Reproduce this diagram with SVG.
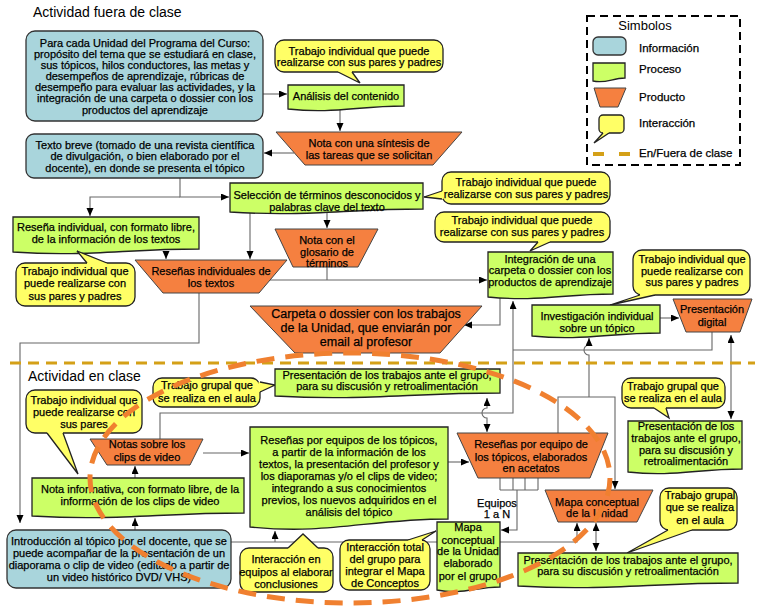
<svg xmlns="http://www.w3.org/2000/svg" width="760" height="607" viewBox="0 0 760 607">
<defs>
<marker id="ar" markerUnits="userSpaceOnUse" markerWidth="9" markerHeight="8" refX="8" refY="3.5" orient="auto-start-reverse"><path d="M0,0 L8,3.5 L0,7 Z" fill="#000"/></marker>
<style>
text{font-family:"Liberation Sans",Arial,sans-serif;font-size:11px;fill:#000;stroke:#000;stroke-width:0.25}
.c{text-anchor:middle}
.info{fill:#A9D5DC;stroke:#333;stroke-width:1.3}
.proc{fill:#CCFF66;stroke:#222;stroke-width:1.3}
.prod{fill:#F58040;stroke:#444;stroke-width:1}
.ci{fill:#FFFF66;stroke:#222;stroke-width:1.3}
.tf{fill:#FFFF66}
.ts{fill:none;stroke:#222;stroke-width:1.3}
.ln{fill:none;stroke:#666;stroke-width:1.1}
.ae{marker-end:url(#ar)}
.ab{marker-start:url(#ar);marker-end:url(#ar)}
.ttl{font-size:14px;stroke:none}
.lg{font-size:11.5px}
</style>
</defs>
<rect width="760" height="607" fill="#fff"/>
<text x="33" y="17" class="ttl">Actividad fuera de clase</text>
<text x="28" y="381" class="ttl">Actividad en clase</text>

<g id="connectors">
<path class="ln ae" d="M263 94 H287"/>
<path class="ln ae" d="M340 110 V131"/>
<path class="ln ae" d="M294 153 H264"/>
<path class="ln ae" d="M180 178 V197 H229"/>
<path class="ln ae" d="M180 197 H90 V216"/>
<path class="ln ae" d="M250 212 V259"/>
<path class="ln ae" d="M166 252 V259"/>
<path class="ln ae" d="M327 211 V228"/>
<path class="ln" d="M327 267 V280"/>
<path class="ln ae" d="M268 280 H487"/>
<path class="ln ae" d="M199 293 V343 H20 V523"/>
<path class="ln ae" d="M500 297 V325 H464"/>
<path class="ln ae" d="M160 439 V413 H513 V301"/>
<path class="ln" d="M712 332 V350 H513"/>
<path class="ln ae" d="M589 397 V355 A5 5 0 0 1 589 345 V338"/>
<path class="ln ae" d="M558 433 V397 H615 V489"/>
<path class="ln ab" d="M731 335 V419"/>
<path class="ln ab" d="M487 398 V408 A5 5 0 0 0 487 418 V432"/>
<path class="ln ae" d="M203 453 H249"/>
<path class="ln ae" d="M448 462 H469"/>
<path class="ln ae" d="M135 478 V466"/>
<path class="ln ae" d="M135 530 V518"/>
<path class="ln ae" d="M231 542 H577 V523"/>
<path class="ln ae" d="M275 542 V531"/>
<path class="ln" d="M500 478 V490 M513 478 V490 M525 478 V490 M538 478 V490 M500 490 H538"/>
<path class="ln ae" d="M517 490 V530 H501"/>
<path class="ln ab" d="M596 523 V551"/>
<path class="ln ae" d="M660 318 H679"/>
</g>

<path d="M10 363 H755" stroke="#D4A017" stroke-width="3" stroke-dasharray="11 7" fill="none"/>

<g id="legend">
<rect x="587" y="16" width="153" height="149" fill="#fff" stroke="#000" stroke-width="2" stroke-dasharray="8 5"/>
<text x="645" y="30" class="c" style="font-size:13px;stroke:none">Simbolos</text>
<rect class="info" x="593" y="37" width="33" height="18" rx="5"/>
<text x="639" y="52" class="lg">Información</text>
<path class="proc" d="M593 63 H625 V78 C612.2 78 605.8 84 593 81 Z"/>
<text x="639" y="73" class="lg">Proceso</text>
<path class="prod" d="M594 88 H626 L618 107 H600 Z"/>
<text x="639" y="101" class="lg">Producto</text>
<rect class="ci" x="599" y="115" width="25" height="18" rx="4"/>
<path class="tf" d="M603 131.5 L603 133 L594 143 L609 133 L609 131.5 Z"/>
<path class="ts" d="M603 133 L594 143 L609 133"/>
<text x="639" y="127" class="lg">Interacción</text>
<path d="M593 154 H630" stroke="#D4A017" stroke-width="4" stroke-dasharray="11 15" fill="none"/>
<text x="639" y="157" class="lg">En/Fuera de clase</text>
</g>

<g id="info1">
<rect class="info" x="26" y="31" width="237" height="90" rx="9"/>
<text class="c" x="145"><tspan x="145" y="47">Para cada Unidad del Programa del Curso:</tspan><tspan x="145" y="58">propósito del tema que se estudiará en clase,</tspan><tspan x="145" y="69">sus tópicos, hilos conductores, las metas y</tspan><tspan x="145" y="80">desempeños de aprendizaje, rúbricas de</tspan><tspan x="145" y="91">desempeño para evaluar las actividades, y la</tspan><tspan x="145" y="102">integración de una carpeta o dossier con los</tspan><tspan x="145" y="114">productos del aprendizaje</tspan></text>
</g>

<g id="info2">
<rect class="info" x="26" y="134" width="237" height="44" rx="8"/>
<text class="c"><tspan x="145" y="149">Texto breve (tomado de una revista científica</tspan><tspan x="145" y="160">de divulgación, o bien elaborado por el</tspan><tspan x="145" y="172">docente), en donde se presenta el tópico</tspan></text>
</g>

<g id="callout1">
<rect class="ci" x="275" y="40" width="168" height="32" rx="9"/>
<path class="tf" d="M338 70.5 L338 72 L360 83 L352 72 L352 70.5 Z"/>
<path class="ts" d="M338 72 L360 83 L352 72"/>
<text class="c"><tspan x="359" y="55">Trabajo individual que puede</tspan><tspan x="359" y="66">realizarse con sus pares y padres</tspan></text>
</g>

<g id="analisis">
<path class="proc" d="M288 85 H404 V106 C357.6 106 334.4 114 288 109 Z"/>
<text class="c" x="346" y="100">Análisis del contenido</text>
</g>

<g id="nota-sintesis">
<path class="prod" d="M276 132 H462 L433 165 H305 Z"/>
<text class="c"><tspan x="369" y="147">Nota con una síntesis de</tspan><tspan x="369" y="159">las tareas que se solicitan</tspan></text>
</g>

<g id="seleccion">
<path class="proc" d="M230 183 H423 V209 C345.8 209 307.2 217 230 212 Z"/>
<text class="c"><tspan x="327" y="199">Selección de términos desconocidos y</tspan><tspan x="327" y="211">palabras clave del texto</tspan></text>
</g>

<g id="callout2">
<rect class="ci" x="442" y="172" width="168" height="32" rx="9"/>
<path class="tf" d="M443.5 191 L442 191 L424 197 L442 199 L443.5 199 Z"/>
<path class="ts" d="M442 191 L424 197 L442 199"/>
<text class="c"><tspan x="526" y="186">Trabajo individual que puede</tspan><tspan x="526" y="198">realizarse con sus pares y padres</tspan></text>
</g>

<g id="callout3">
<rect class="ci" x="435" y="212" width="175" height="30" rx="9"/>
<path class="tf" d="M538 240.5 L538 242 L530 251 L550 242 L550 240.5 Z"/>
<path class="ts" d="M538 242 L530 251 L550 242"/>
<text class="c"><tspan x="522" y="224">Trabajo individual que puede</tspan><tspan x="522" y="236">realizarse con sus pares y padres</tspan></text>
</g>

<g id="resena-individual">
<path class="proc" d="M13 217 H199 V249 C124.6 249 87.4 257 13 252 Z"/>
<text class="c"><tspan x="106" y="231">Reseña individual, con formato libre,</tspan><tspan x="106" y="243">de la información de los textos</tspan></text>
</g>

<g id="callout4">
<rect class="ci" x="16" y="263" width="119" height="43" rx="9"/>
<path class="tf" d="M87 264.5 L87 263 L77 251 L107 263 L107 264.5 Z"/>
<path class="ts" d="M87 263 L77 251 L107 263"/>
<text class="c"><tspan x="75" y="275">Trabajo individual que</tspan><tspan x="75" y="287">puede realizarse con</tspan><tspan x="75" y="300">sus pares y padres</tspan></text>
</g>

<g id="resenas-individuales">
<path class="prod" d="M135 260 H287 L259 293 H163 Z"/>
<text class="c"><tspan x="211" y="275">Reseñas individuales de</tspan><tspan x="211" y="287">los textos</tspan></text>
</g>

<g id="glosario">
<path class="prod" d="M275 229 H378 L358 267 H293 Z"/>
<text class="c"><tspan x="327" y="244">Nota con el</tspan><tspan x="327" y="256">glosario de</tspan><tspan x="327" y="267">términos</tspan></text>
</g>

<g id="integracion">
<path class="proc" d="M488 252 H613 V294 C563 294 538 302 488 297 Z"/>
<text class="c"><tspan x="550" y="263">Integración de una</tspan><tspan x="550" y="274">carpeta o dossier con los</tspan><tspan x="550" y="286">productos de aprendizaje</tspan></text>
</g>

<g id="carpeta">
<path class="prod" d="M250 306 H482 L440 353 H295 Z"/>
<text class="c" style="font-size:12.5px"><tspan x="366" y="318">Carpeta o dossier con los trabajos</tspan><tspan x="366" y="332">de la Unidad, que enviarán por</tspan><tspan x="366" y="346">email al profesor</tspan></text>
</g>

<g id="callout5">
<rect class="ci" x="633" y="250" width="117" height="45" rx="9"/>
<path class="tf" d="M640 293.5 L640 295 L610 305 L655 295 L655 293.5 Z"/>
<path class="ts" d="M640 295 L610 305 L655 295"/>
<text class="c"><tspan x="692" y="263">Trabajo individual que</tspan><tspan x="692" y="275">puede realizarse con</tspan><tspan x="692" y="286">sus pares y padres</tspan></text>
</g>

<g id="investigacion">
<path class="proc" d="M532 305 H660 V333 C608.8 333 583.2 341 532 336 Z"/>
<text class="c"><tspan x="597" y="320">Investigación individual</tspan><tspan x="597" y="332">sobre un tópico</tspan></text>
</g>

<g id="presentacion-digital">
<path class="prod" d="M673 299 H752 L740 332 H686 Z"/>
<text class="c"><tspan x="712" y="313">Presentación</tspan><tspan x="712" y="326">digital</tspan></text>
</g>

<g id="callout6">
<rect class="ci" x="153" y="378" width="107" height="29" rx="9"/>
<path class="tf" d="M258.5 382 L260 382 L275 385 L260 392 L258.5 392 Z"/>
<path class="ts" d="M260 382 L275 385 L260 392"/>
<text class="c"><tspan x="207" y="389">Trabajo grupal que</tspan><tspan x="207" y="402">se realiza en el aula</tspan></text>
</g>

<g id="callout7">
<rect class="ci" x="26" y="390" width="116" height="43" rx="9"/>
<path class="tf" d="M47 431.5 L47 433 L78 474 L63 433 L63 431.5 Z"/>
<path class="ts" d="M47 433 L78 474 L63 433"/>
<text class="c"><tspan x="84" y="404">Trabajo individual que</tspan><tspan x="84" y="416">puede realizarse con</tspan><tspan x="84" y="428">sus pares</tspan></text>
</g>

<g id="presentacion-grupo-1">
<path class="proc" d="M275 369 H500 V393 C410 393 365 401 275 396 Z"/>
<text class="c"><tspan x="387" y="379">Presentación de los trabajos ante el grupo,</tspan><tspan x="387" y="390">para su discusión y retroalimentación</tspan></text>
</g>

<g id="notas-clips">
<path class="prod" d="M90 439 H203 L190 465 H107 Z"/>
<text class="c"><tspan x="147" y="448">Notas sobre los</tspan><tspan x="147" y="461">clips de video</tspan></text>
</g>

<g id="resenas-equipos">
<path class="proc" d="M250 427 H448 V519 C368.8 519 329.2 535 250 527 Z"/>
<text class="c"><tspan x="349" y="444">Reseñas por equipos de los tópicos,</tspan><tspan x="349" y="456">a partir de la información de los</tspan><tspan x="349" y="468">textos, la presentación del profesor y</tspan><tspan x="349" y="480">los diaporamas y/o el clips de video;</tspan><tspan x="349" y="492">integrando a sus conocimientos</tspan><tspan x="349" y="504">previos, los nuevos adquiridos en el</tspan><tspan x="349" y="516">análisis del tópico</tspan></text>
</g>

<g id="resenas-acetatos">
<path class="prod" d="M457 433 H608 L590 478 H478 Z"/>
<text class="c"><tspan x="531" y="448">Reseñas por equipo de</tspan><tspan x="531" y="461">los tópicos, elaborados</tspan><tspan x="531" y="472">en acetatos</tspan></text>
</g>

<g id="callout8">
<rect class="ci" x="622" y="378" width="103" height="30" rx="9"/>
<path class="tf" d="M654 406.5 L654 408 L669 418 L666 408 L666 406.5 Z"/>
<path class="ts" d="M654 408 L669 418 L666 408"/>
<text class="c"><tspan x="673" y="390">Trabajo grupal que</tspan><tspan x="673" y="402">se realiza en el aula</tspan></text>
</g>

<g id="presentacion-grupo-2">
<path class="proc" d="M628 421 H742 V469 C696.4 469 673.6 477 628 472 Z"/>
<text class="c"><tspan x="686" y="430">Presentación de los</tspan><tspan x="686" y="442">trabajos ante el grupo,</tspan><tspan x="686" y="454">para su discusión y</tspan><tspan x="686" y="465">retroalimentación</tspan></text>
</g>

<g id="nota-informativa">
<path class="proc" d="M32 478 H244 V513 C159.2 513 116.8 521 32 516 Z"/>
<text class="c"><tspan x="140" y="493">Nota informativa, con formato libre, de la</tspan><tspan x="140" y="505">información de los clips de video</tspan></text>
</g>

<g id="introduccion">
<rect class="info" x="7" y="530" width="224" height="58" rx="9"/>
<text class="c"><tspan x="119" y="545">Introducción al tópico por el docente, que se</tspan><tspan x="119" y="557">puede acompañar de la presentación de un</tspan><tspan x="119" y="569">diaporama o clip de video (editado a partir de</tspan><tspan x="119" y="581">un video histórico DVD/ VHS)</tspan></text>
</g>

<g id="callout10">
<rect class="ci" x="240" y="548" width="93" height="44" rx="9"/>
<path class="tf" d="M288 549.5 L288 548 L303 534 L318 548 L318 549.5 Z"/>
<path class="ts" d="M288 548 L303 534 L318 548"/>
<text class="c"><tspan x="286" y="563">Interacción en</tspan><tspan x="286" y="576">equipos al elaborar</tspan><tspan x="286" y="588">conclusiones</tspan></text>
</g>

<g id="callout11">
<rect class="ci" x="340" y="540" width="90" height="50" rx="9"/>
<path class="tf" d="M408 541.5 L408 540 L436 531 L422 540 L422 541.5 Z"/>
<path class="ts" d="M408 540 L436 531 L422 540"/>
<text class="c"><tspan x="385" y="551">Interacción total</tspan><tspan x="385" y="563">del grupo para</tspan><tspan x="385" y="575">integrar el Mapa</tspan><tspan x="385" y="587">de Conceptos</tspan></text>
</g>

<g id="mapa-grupo">
<path class="proc" d="M437 522 H500 V587 C474.8 587 462.2 595 437 590 Z"/>
<text class="c"><tspan x="468" y="531">Mapa</tspan><tspan x="468" y="544">conceptual</tspan><tspan x="468" y="555">de la Unidad</tspan><tspan x="468" y="567">elaborado</tspan><tspan x="468" y="580">por el grupo</tspan></text>
</g>

<g id="equipos-label">
<text class="c"><tspan x="497" y="507">Equipos</tspan><tspan x="497" y="518">1 a N</tspan></text>
</g>

<g id="mapa-unidad">
<path class="prod" d="M545 490 H653 L637 522 H558 Z"/>
<text class="c"><tspan x="597" y="506">Mapa conceptual</tspan><tspan x="597" y="517">de la Unidad</tspan></text>
</g>

<g id="callout9">
<rect class="ci" x="660" y="488" width="77" height="42" rx="9"/>
<path class="tf" d="M668 528.5 L668 530 L627 553 L692 530 L692 528.5 Z"/>
<path class="ts" d="M668 530 L627 553 L692 530"/>
<text class="c"><tspan x="700" y="499">Trabajo grupal</tspan><tspan x="700" y="511">que se realiza</tspan><tspan x="700" y="524">en el aula</tspan></text>
</g>

<g id="presentacion-grupo-3">
<path class="proc" d="M518 553 H738 V583 C650 583 606 591 518 586 Z"/>
<text class="c"><tspan x="628" y="564">Presentación de los trabajos ante el grupo,</tspan><tspan x="628" y="575">para su discusión y retroalimentación</tspan></text>
</g>

<ellipse id="clase-boundary" cx="350" cy="478" rx="260" ry="125" fill="none" stroke="#F08030" stroke-width="5" stroke-dasharray="18 11"/>
</svg>
